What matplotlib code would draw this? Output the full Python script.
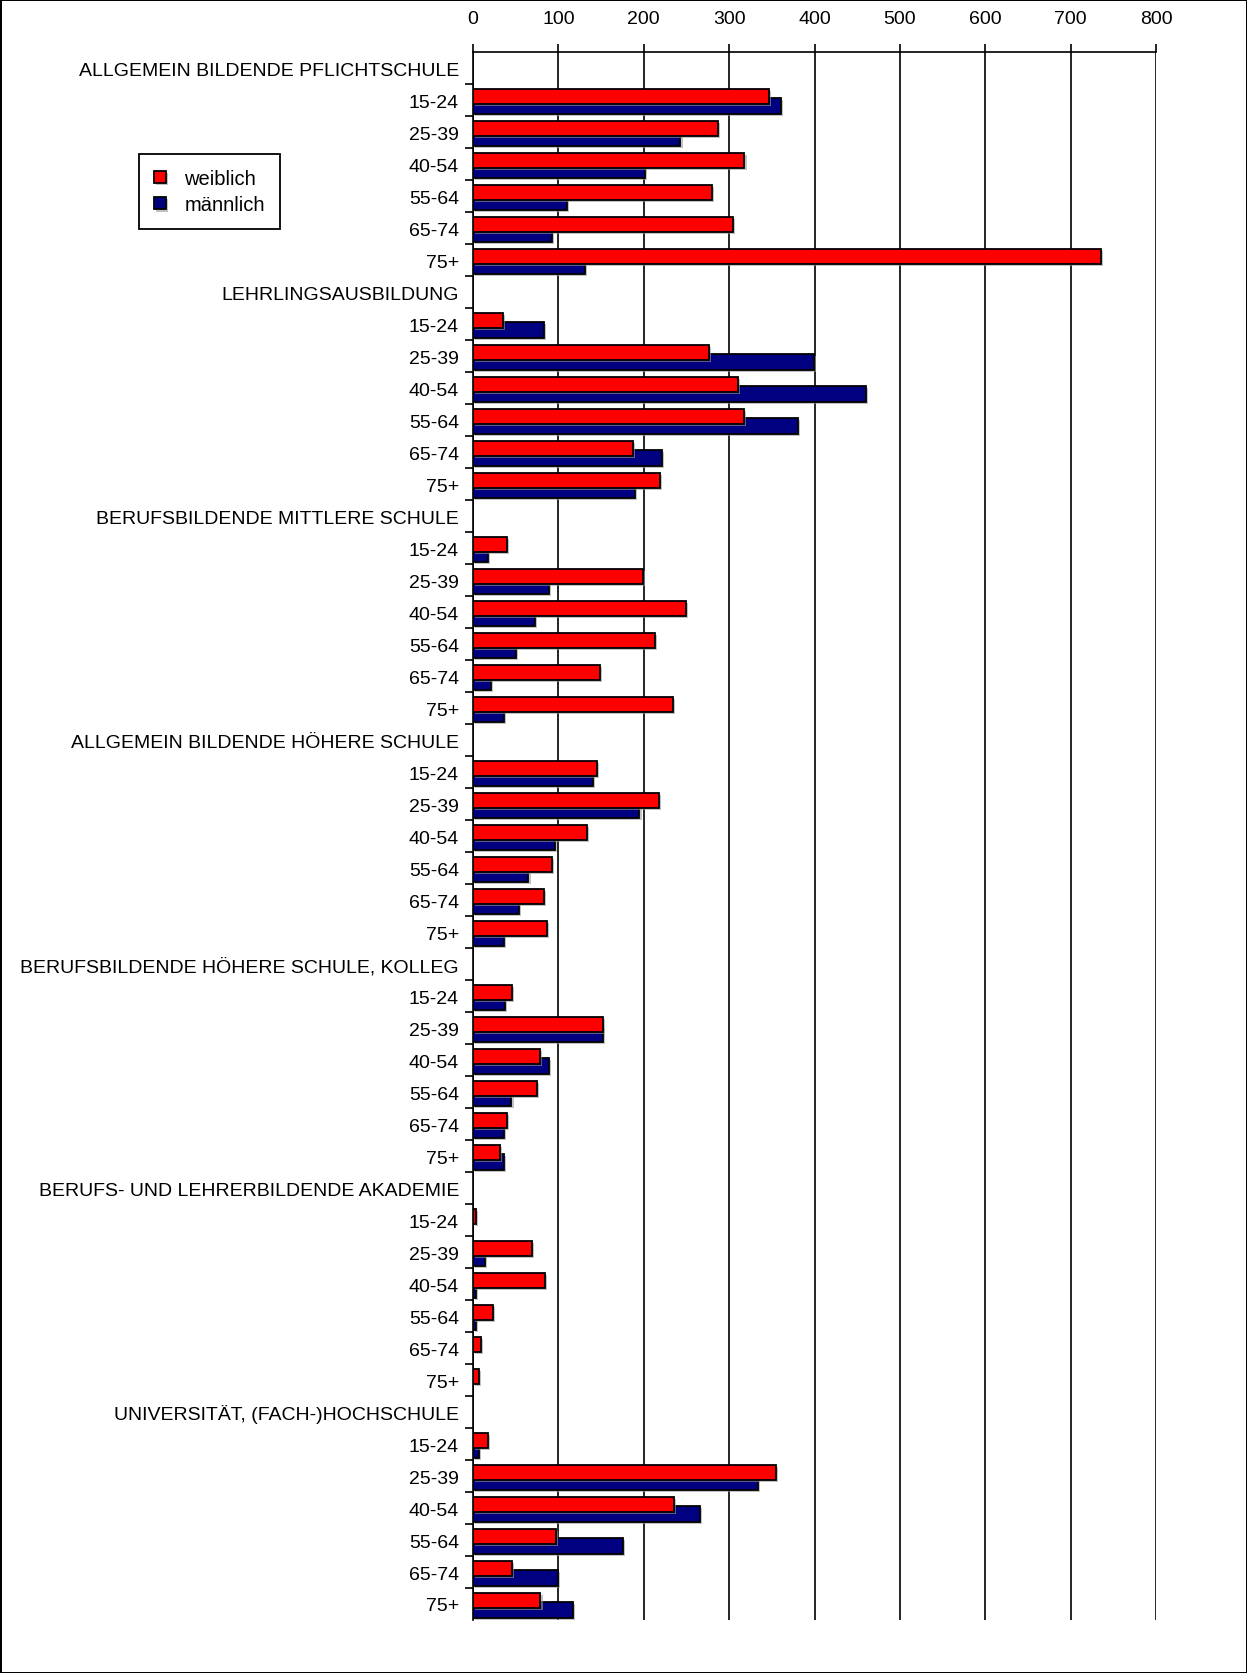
import numpy as np
import matplotlib
matplotlib.use('Agg')
import matplotlib.pyplot as plt
import matplotlib.patheffects as pe

plt.rcParams['font.family'] = ['Liberation Sans', 'DejaVu Sans']

# Daten
gruppen = ['ALLGEMEIN BILDENDE PFLICHTSCHULE', 'LEHRLINGSAUSBILDUNG',
           'BERUFSBILDENDE MITTLERE SCHULE', 'ALLGEMEIN BILDENDE HÖHERE SCHULE',
           'BERUFSBILDENDE HÖHERE SCHULE, KOLLEG', 'BERUFS- UND LEHRERBILDENDE AKADEMIE',
           'UNIVERSITÄT, (FACH-)HOCHSCHULE']
alter = ['15-24', '25-39', '40-54', '55-64', '65-74', '75+']

weiblich = [
    [347, 287, 318, 280, 305, 735],
    [35, 276, 310, 317, 187, 219],
    [40, 199, 249, 213, 149, 234],
    [145, 218, 133, 92, 83, 87],
    [46, 152, 78, 75, 40, 32],
    [4, 69, 84, 23, 9, 7],
    [18, 355, 235, 97, 46, 79],
]
maennlich = [
    [361, 243, 201, 110, 92, 131],
    [83, 399, 460, 381, 221, 190],
    [17, 89, 73, 50, 21, 36],
    [140, 195, 96, 65, 54, 36],
    [37, 152, 89, 45, 36, 36],
    [0, 14, 4, 4, 0, 0],
    [7, 334, 266, 176, 100, 117],
]
x_ticks = [0, 100, 200, 300, 400, 500, 600, 700, 800]

# Zeilen aufbauen: Gruppenkopf (ohne Balken) + 6 Altersgruppen
labels, w_vals, m_vals = [], [], []
for g, w, m in zip(gruppen, weiblich, maennlich):
    labels.append(g)
    w_vals.append(np.nan)
    m_vals.append(np.nan)
    labels += alter
    w_vals += w
    m_vals += m
pos = np.arange(len(labels))

fig = plt.figure(figsize=(12.47, 16.74), dpi=100)
ax = fig.add_axes([473/1247, 1-1621/1674, (1156-473)/1247, (1621-53)/1674])

shadow = [pe.SimplePatchShadow(offset=(1.5, -1.5), shadow_rgbFace='#999999', alpha=0.6), pe.Normal()]
b_m = ax.barh(pos + 0.19, m_vals, height=0.49, color='#000080', edgecolor='black',
              linewidth=1.3, label='männlich', zorder=3)
b_w = ax.barh(pos - 0.11, w_vals, height=0.49, color='#ff0000', edgecolor='black',
              linewidth=1.3, label='weiblich', zorder=4)
for b in list(b_m) + list(b_w):
    b.set_path_effects(shadow)

ax.set_xlim(0, 800)
ax.set_ylim(len(labels) - 0.5, -0.5)
ax.set_xticks(x_ticks)
ax.xaxis.tick_top()
ax.tick_params(axis='x', length=6, width=1.2, pad=12, labelsize=14)
ax.grid(axis='x', color='black', linewidth=1.2)
ax.set_axisbelow(True)

ax.set_yticks(pos)
ax.set_yticklabels(labels)
ax.set_yticks(pos[:-1] + 0.5, minor=True)
ax.tick_params(axis='y', which='major', length=0, pad=10, labelsize=14)
ax.tick_params(axis='y', which='minor', length=6, width=1.2)

for s in ['right', 'bottom']:
    ax.spines[s].set_visible(False)
ax.spines['left'].set_linewidth(1.2)
ax.spines['top'].set_linewidth(1.2)

# Legende
leg = fig.legend(handles=[b_w, b_m], labels=['weiblich', 'männlich'], loc='upper left',
                 bbox_to_anchor=(139/1247, 1-155/1674), fontsize=14.5, fancybox=False,
                 framealpha=1, edgecolor='black', handlelength=0.6, handleheight=0.6,
                 handletextpad=0.9, borderpad=0.75, labelspacing=0.35, borderaxespad=0)
leg.get_frame().set_linewidth(1.3)

# Rahmen um das ganze Bild
fig.patch.set_edgecolor('black')
fig.patch.set_linewidth(2)

fig.savefig('out.png', dpi=100, edgecolor=fig.get_edgecolor())
